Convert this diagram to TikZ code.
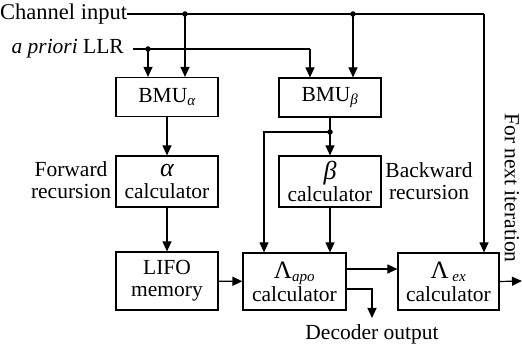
\documentclass[tikz,border=0pt]{standalone}
\usepackage{fontspec}
\setmainfont{Liberation Serif}
\usetikzlibrary{arrows.meta,calc}
\newcommand{\gbig}[1]{{\fontsize{26}{22}\selectfont\itshape #1}}
\newcommand{\sbs}[1]{\textsubscript{\itshape #1}}
\begin{document}
\begin{tikzpicture}[x=1pt,y=-1pt,
  every node/.style={font=\fontsize{21.5}{22}\selectfont\rmfamily},
  blk/.style={draw,line width=1.2pt,minimum width=102pt,inner sep=0pt,align=center},
  lbl/.style={inner sep=0pt,align=center},
  wire/.style={line width=1.2pt},
  arr/.style={wire,-{Triangle[length=10pt,width=9pt]}},
  dot/.style={circle,fill,inner sep=0pt,minimum size=5.5pt}]
\useasboundingbox (0,0) rectangle (522,347);
% blocks
\node[blk,minimum height=39pt] (bmua) at (167,97) {BMU\sbs{α}};
\node[blk,minimum height=39pt] (bmub) at (330,97.5) {BMU\sbs{β}};
\node[blk,minimum height=51pt] (acalc) at (167,181.5) {\gbig{α}\\calculator};
\node[blk,minimum height=51pt] (bcalc) at (330,181.5) {\gbig{β}\\calculator};
\node[blk,minimum height=58pt] (lifo) at (167,281) {LIFO\\memory};
\node[blk,minimum height=57pt,minimum width=103pt] (lapo) at (294.5,281.5) {{\fontsize{25}{22}\selectfont Λ}\sbs{apo}\\[1pt]calculator};
\node[blk,minimum height=57pt,minimum width=101pt] (lex) at (448.5,281.5) {{\fontsize{25}{22}\selectfont Λ}\,\sbs{ex}\\[1pt]calculator};
% labels
\node[lbl,anchor=west,font=\fontsize{22.5}{22}\selectfont] (ci) at (0,14) {Channel input};
\node[lbl,anchor=east] (ap) at (124,49) {\textit{a priori} LLR};
\node[lbl] (fw) at (71,180) {Forward\\recursion};
\node[lbl] (bw) at (429,181) {Backward\\recursion};
\node[lbl] (dec) at (372,334) {Decoder output};
\node[lbl,rotate=-90] (nxt) at (512,188) {For next iteration};
% coordinates
\coordinate (cd1) at (185,14);
\coordinate (cd2) at (353,14);
\coordinate (cend) at (484,14);
\coordinate (ad1) at (148,49);
\coordinate (aend) at (310,49);
\coordinate (bd) at (330,132);
\coordinate (bl) at (264,132);
\coordinate (dcor) at (372,289);
\coordinate (dend) at (372,318);
\coordinate (nend) at (522,281);
% channel input
\draw[wire] (ci.east) -- (cend);
\draw[arr] (cend) -- (cend |- lex.north);
\draw[arr] (cd1) -- (cd1 |- bmua.north);
\draw[arr] (cd2) -- (cd2 |- bmub.north);
\node[dot] at (cd1) {};
\node[dot] at (cd2) {};
% a priori
\draw[wire] ($(ap.east)+(9,0)$) -- (aend);
\draw[arr] (aend) -- (aend |- bmub.north);
\draw[arr] (ad1) -- (ad1 |- bmua.north);
\node[dot] at (ad1) {};
% vertical chains
\draw[arr] (bmua) -- (acalc);
\draw[arr] (acalc) -- (lifo);
\draw[arr] (bmub) -- (bcalc);
\draw[arr] (bcalc.south) -- (bcalc.south |- lapo.north);
\draw[arr] (bd) -- (bl) -- (bl |- lapo.north);
\node[dot] at (bd) {};
% bottom row
\draw[arr] (lifo) -- (lapo);
\draw[arr] (lapo.east |- 0,269) -- (lex.west |- 0,269);
\draw[arr] (lapo.east |- dcor) -- (dcor) -- (dend);
\draw[arr] (lex.east) -- (nend);
\end{tikzpicture}
\end{document}
